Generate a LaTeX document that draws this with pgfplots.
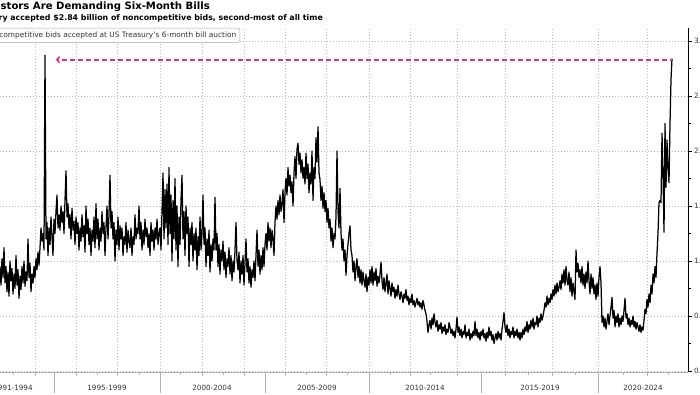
\documentclass[border=0pt]{standalone}
\usepackage{pgfplots}
\pgfplotsset{compat=1.18}
\usepackage{fontspec}
\setmainfont{DejaVu Sans}
\usetikzlibrary{arrows.meta}
\definecolor{bred}{RGB}{240,40,110}
\definecolor{txtgray}{RGB}{50,50,50}
\begin{document}
\begin{tikzpicture}
\begin{axis}[
  at={(0pt,22pt)}, anchor=south west,
  width=688pt, height=344pt, scale only axis,
  xmin=0, xmax=688, ymin=-0.01, ymax=3.118,
  axis x line*=bottom, axis y line*=right,
  x axis line style={draw=gray!60, line width=0.6pt},
  y axis line style={draw=black, line width=0.6pt},
  xtick={35,76,117,160,202,244,285,326,369,410,457,505,552,598,647},
  minor xtick={13,54,97,139,180,223,265,306,347,390,430,481,528,575,623,668},
  xticklabels={},
  x tick style={draw=gray!60, line width=0.5pt},
  xtick align=outside,
  ytick={0,0.5,1,1.5,2,2.5,3},
  minor ytick={0.25,0.75,1.25,1.75,2.25,2.75},
  ytick align=outside,
  y tick style={draw=black, line width=0.6pt},
  major tick length=4pt, minor tick length=2.5pt,
  yticklabel pos=right,
  yticklabel style={font=\fontsize{7.2}{8}\selectfont, text=txtgray, anchor=west, inner sep=0pt, xshift=2pt,
    /pgf/number format/.cd, fixed, fixed zerofill, precision=1, assume math mode=true},
  xmajorgrids, ymajorgrids,
  grid style={gray!55, line width=0.6pt, dash pattern=on 1pt off 2pt},
  clip=false,
  legend style={at={(axis cs:240,3.118)}, anchor=north east, draw=gray!70, rounded corners=2pt,
    fill=white, font=\fontsize{7.4}{8.5}\selectfont, text=txtgray, inner sep=1.5pt},
  legend cell align=left,
]
\addplot[black, line width=1.25pt, line join=round] table {
x y
0 0.95
1 0.78
2 1.02
3 0.85
4 1.12
5 0.80
6 0.95
7 0.72
8 0.90
9 0.68
10 1.00
11 0.82
12 0.93
13 0.70
14 0.88
15 0.75
16 1.05
17 0.78
18 0.92
19 0.66
20 0.86
21 0.74
22 0.95
23 0.80
24 1.00
25 0.77
26 0.90
27 0.82
28 1.20
29 0.85
30 0.98
31 0.72
32 0.88
33 0.80
34 0.95
35 0.85
36 1.02
37 0.92
38 1.08
39 0.96
40 1.12
41 1.30
42 1.18
43 1.25
44 1.10
45 2.87
46 1.20
47 1.35
48 1.05
49 1.30
50 1.15
51 1.40
52 1.22
53 1.05
54 1.38
55 1.25
56 1.45
57 1.60
58 1.30
59 1.42
60 1.28
61 1.50
62 1.35
63 1.45
64 1.25
65 1.55
66 1.82
67 1.40
68 1.52
69 1.30
70 1.42
71 1.20
72 1.48
73 1.28
74 1.36
75 1.15
76 1.40
77 1.25
78 1.35
79 1.10
80 1.30
81 1.18
82 1.42
83 1.22
84 1.32
85 1.08
86 1.50
87 1.25
88 1.38
89 1.15
90 1.30
91 1.05
92 1.28
93 1.18
94 1.40
95 1.12
96 1.52
97 1.20
98 1.38
99 1.10
100 1.30
101 1.18
102 1.45
103 1.25
104 1.35
105 1.05
106 1.30
107 1.50
108 1.20
109 1.42
110 1.78
111 1.30
112 1.45
113 1.20
114 1.35
115 1.00
116 1.28
117 1.15
118 1.40
119 1.10
120 1.32
121 1.20
122 1.30
123 1.05
124 1.22
125 1.15
126 1.35
127 1.08
128 1.28
129 1.18
130 1.12
131 1.30
132 1.05
133 1.22
134 1.15
135 1.42
136 1.20
137 1.30
138 1.25
139 1.50
140 1.20
141 1.35
142 1.10
143 1.28
144 1.15
145 1.38
146 1.22
147 1.30
148 1.12
149 1.25
150 1.05
151 1.35
152 1.18
153 1.28
154 1.10
155 1.30
156 1.20
157 1.38
158 1.15
159 1.25
160 1.30
161 1.10
162 1.45
163 1.80
164 1.20
165 1.65
166 1.30
167 1.70
168 1.15
169 1.85
170 1.25
171 1.60
172 1.00
173 1.55
174 1.20
175 1.75
176 1.10
177 1.50
178 0.95
179 1.40
180 1.15
181 1.55
182 1.78
183 1.20
184 1.45
185 1.05
186 1.50
187 1.25
188 1.40
189 0.95
190 1.30
191 1.15
192 1.35
193 1.00
194 1.25
195 1.10
196 1.30
197 0.92
198 1.22
199 1.05
200 1.40
201 1.10
202 1.25
203 1.60
204 1.15
205 1.30
206 0.95
207 1.20
208 1.05
209 1.28
210 0.90
211 1.15
212 1.00
213 1.20
214 1.10
215 1.58
216 1.10
217 1.25
218 0.95
219 1.15
220 0.88
221 1.10
222 1.00
223 1.18
224 0.92
225 1.08
226 0.85
227 1.02
228 0.95
229 1.12
230 0.88
231 1.05
232 0.82
233 1.00
234 0.90
235 1.10
236 1.35
237 1.00
238 0.92
239 1.08
240 0.80
241 1.00
242 0.88
243 1.05
244 0.78
245 0.98
246 1.20
247 0.90
248 1.02
249 0.80
250 0.95
251 0.76
252 0.92
253 0.85
254 1.00
255 0.82
256 1.05
257 1.28
258 0.95
259 1.10
260 0.88
261 1.05
262 0.92
263 1.12
264 0.95
265 1.15
266 1.25
267 1.10
268 1.35
269 1.18
270 1.30
271 1.12
272 1.28
273 1.20
274 1.05
275 1.35
276 1.50
277 1.38
278 1.55
279 1.42
280 1.60
281 1.45
282 1.52
283 1.65
284 1.35
285 1.62
286 1.75
287 1.60
288 1.85
289 1.68
290 1.78
291 1.62
292 1.72
293 1.50
294 1.80
295 1.95
296 1.75
297 2.02
298 2.07
299 1.88
300 1.98
301 1.80
302 1.92
303 1.75
304 1.85
305 1.70
306 1.98
307 1.75
308 1.88
309 1.62
310 1.80
311 1.70
312 2.00
313 1.55
314 1.85
315 1.75
316 2.12
317 1.90
318 2.22
319 1.80
320 1.74
321 1.55
322 1.68
323 1.48
324 1.62
325 1.45
326 1.55
327 1.35
328 1.48
329 1.30
330 1.38
331 1.18
332 1.30
333 1.12
334 1.25
335 1.20
336 1.40
337 2.00
338 1.45
339 1.30
340 1.66
341 1.25
342 1.10
343 1.20
344 1.00
345 1.10
346 0.87
347 1.05
348 1.15
349 1.25
350 1.32
351 1.10
352 1.05
353 0.90
354 1.00
355 0.82
356 0.95
357 1.02
358 0.85
359 0.95
360 0.80
361 0.92
362 0.78
363 0.90
364 0.82
365 0.76
366 0.88
367 0.72
368 0.85
369 0.78
370 0.92
371 0.80
372 0.95
373 0.78
374 0.90
375 0.82
376 0.93
377 0.77
378 0.86
379 0.80
380 0.88
381 0.99
382 0.82
383 0.74
384 0.85
385 0.72
386 0.80
387 0.88
388 0.70
389 0.82
390 0.75
391 0.68
392 0.80
393 0.72
394 0.76
395 0.66
396 0.74
397 0.68
398 0.78
399 0.70
400 0.65
401 0.72
402 0.68
403 0.62
404 0.70
405 0.66
406 0.74
407 0.64
408 0.68
409 0.60
410 0.66
411 0.62
412 0.70
413 0.60
414 0.64
415 0.58
416 0.62
417 0.66
418 0.60
419 0.63
420 0.58
421 0.62
422 0.56
423 0.64
424 0.60
425 0.55
426 0.52
427 0.45
428 0.35
429 0.42
430 0.46
431 0.38
432 0.48
433 0.42
434 0.52
435 0.44
436 0.40
437 0.46
438 0.36
439 0.42
440 0.38
441 0.44
442 0.34
443 0.40
444 0.36
445 0.42
446 0.33
447 0.38
448 0.35
449 0.44
450 0.40
451 0.34
452 0.38
453 0.32
454 0.36
455 0.30
456 0.38
457 0.49
458 0.35
459 0.40
460 0.32
461 0.38
462 0.30
463 0.36
464 0.33
465 0.42
466 0.30
467 0.35
468 0.32
469 0.38
470 0.28
471 0.34
472 0.30
473 0.36
474 0.32
475 0.45
476 0.32
477 0.38
478 0.30
479 0.35
480 0.28
481 0.36
482 0.32
483 0.38
484 0.30
485 0.34
486 0.27
487 0.35
488 0.30
489 0.40
490 0.32
491 0.36
492 0.28
493 0.33
494 0.25
495 0.30
496 0.34
497 0.28
498 0.36
499 0.30
500 0.34
501 0.28
502 0.38
503 0.45
504 0.53
505 0.40
506 0.35
507 0.42
508 0.32
509 0.38
510 0.30
511 0.36
512 0.33
513 0.40
514 0.30
515 0.36
516 0.32
517 0.38
518 0.30
519 0.35
520 0.28
521 0.35
522 0.30
523 0.38
524 0.33
525 0.40
526 0.36
527 0.45
528 0.35
529 0.42
530 0.38
531 0.46
532 0.40
533 0.48
534 0.38
535 0.44
536 0.42
537 0.50
538 0.40
539 0.48
540 0.44
541 0.52
542 0.46
543 0.50
544 0.55
545 0.62
546 0.58
547 0.68
548 0.60
549 0.66
550 0.62
551 0.70
552 0.65
553 0.74
554 0.68
555 0.78
556 0.70
557 0.80
558 0.72
559 0.76
560 0.82
561 0.74
562 0.88
563 0.80
564 0.92
565 0.78
566 0.95
567 0.82
568 0.78
569 0.90
570 0.72
571 0.85
572 0.68
573 0.80
574 0.72
575 0.65
576 1.10
577 0.90
578 0.98
579 0.85
580 0.92
581 0.80
582 0.95
583 0.78
584 0.88
585 0.75
586 0.90
587 0.80
588 1.00
589 0.82
590 0.70
591 0.88
592 0.75
593 0.85
594 0.70
595 0.78
596 0.65
597 0.80
598 0.68
599 0.85
600 0.95
601 0.80
602 0.44
603 0.50
604 0.40
605 0.48
606 0.38
607 0.45
608 0.52
609 0.42
610 0.50
611 0.58
612 0.67
613 0.48
614 0.55
615 0.40
616 0.50
617 0.44
618 0.52
619 0.40
620 0.48
621 0.42
622 0.50
623 0.45
624 0.55
625 0.66
626 0.48
627 0.52
628 0.42
629 0.48
630 0.40
631 0.46
632 0.42
633 0.50
634 0.40
635 0.45
636 0.38
637 0.44
638 0.40
639 0.36
640 0.42
641 0.35
642 0.40
643 0.37
644 0.46
645 0.56
646 0.52
647 0.65
648 0.58
649 0.70
650 0.62
651 0.78
652 0.70
653 0.88
654 0.80
655 0.95
656 0.85
657 1.07
658 1.25
659 1.53
660 1.55
661 1.53
662 2.16
663 1.80
664 1.26
665 2.25
666 1.67
667 2.10
668 1.85
669 1.71
670 2.25
671 2.65
672 2.84
};
\addlegendentry{Noncompetitive bids accepted at US Treasury's 6-month bill auction}
\addplot[draw=bred, line width=1.8pt, dash pattern=on 5pt off 3pt, forget plot]
  coordinates {(62,2.83) (672,2.83)};
\addplot[draw=bred, solid, line width=1.5pt, {Straight Barb[length=2.5pt,width=6pt]}-, forget plot]
  coordinates {(56,2.83) (59,2.83)};
% category separators
\draw[gray!60, line width=0.6pt] (axis cs:54,-0.01) -- ++(0,-22pt);
\draw[gray!60, line width=0.6pt] (axis cs:160,-0.01) -- ++(0,-22pt);
\draw[gray!60, line width=0.6pt] (axis cs:265,-0.01) -- ++(0,-22pt);
\draw[gray!60, line width=0.6pt] (axis cs:369,-0.01) -- ++(0,-22pt);
\draw[gray!60, line width=0.6pt] (axis cs:481,-0.01) -- ++(0,-22pt);
\draw[gray!60, line width=0.6pt] (axis cs:598,-0.01) -- ++(0,-22pt);
% category labels
\node[anchor=base, inner sep=0pt, font=\fontsize{7.2}{8}\selectfont, text=txtgray, yshift=-18.6pt] at (axis cs:13,-0.01) {1991-1994};
\node[anchor=base, inner sep=0pt, font=\fontsize{7.2}{8}\selectfont, text=txtgray, yshift=-18.6pt] at (axis cs:107,-0.01) {1995-1999};
\node[anchor=base, inner sep=0pt, font=\fontsize{7.2}{8}\selectfont, text=txtgray, yshift=-18.6pt] at (axis cs:212,-0.01) {2000-2004};
\node[anchor=base, inner sep=0pt, font=\fontsize{7.2}{8}\selectfont, text=txtgray, yshift=-18.6pt] at (axis cs:317,-0.01) {2005-2009};
\node[anchor=base, inner sep=0pt, font=\fontsize{7.2}{8}\selectfont, text=txtgray, yshift=-18.6pt] at (axis cs:425,-0.01) {2010-2014};
\node[anchor=base, inner sep=0pt, font=\fontsize{7.2}{8}\selectfont, text=txtgray, yshift=-18.6pt] at (axis cs:540,-0.01) {2015-2019};
\node[anchor=base, inner sep=0pt, font=\fontsize{7.2}{8}\selectfont, text=txtgray, yshift=-18.6pt] at (axis cs:643,-0.01) {2020-2024};
\end{axis}
\node[anchor=base east, inner sep=0pt, font=\fontsize{10.1}{12}\selectfont\bfseries] at (210pt,384pt) {Investors Are Demanding Six-Month Bills};
\node[anchor=base east, inner sep=0pt, font=\fontsize{7.85}{9}\selectfont\bfseries] at (323pt,373pt) {Treasury accepted \$2.84 billion of noncompetitive bids, second-most of all time};
\pgfresetboundingbox
\useasboundingbox (0pt,0pt) rectangle (700pt,394pt);
\end{tikzpicture}
\end{document}
